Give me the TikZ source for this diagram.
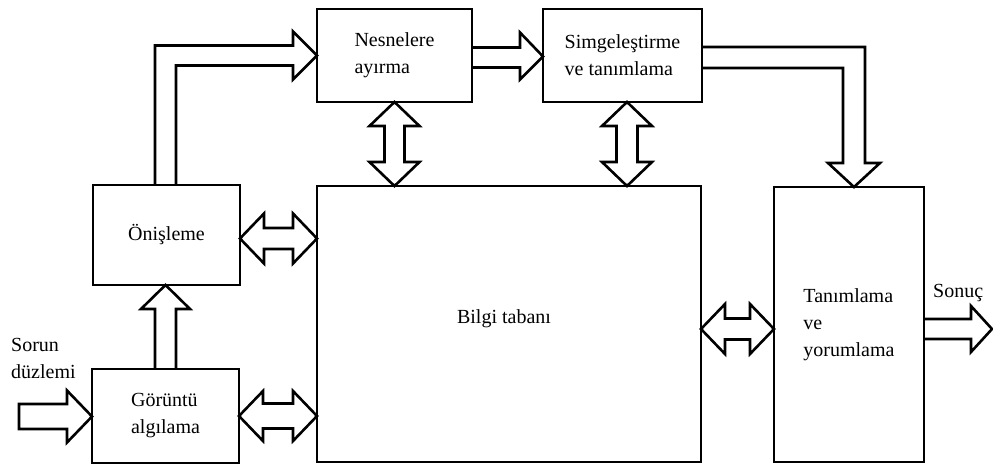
\documentclass[tikz,border=0pt]{standalone}
\usepackage{fontspec}
\setmainfont{Liberation Serif}
\usetikzlibrary{calc}

% horizontal two-headed block arrow between two points on the same level
\newcommand\hdbl[3]{%
  \draw[blk] let \p1=(#1), \p2=(#2) in
    (\x1,\y1) -- (\x1+24pt,\y1+25pt) -- (\x1+24pt,\y1+#3) -- (\x2-24pt,\y1+#3)
    -- (\x2-24pt,\y1+25pt) -- (\x2,\y1) -- (\x2-24pt,\y1-25pt) -- (\x2-24pt,\y1-#3)
    -- (\x1+24pt,\y1-#3) -- (\x1+24pt,\y1-25pt) -- cycle;}
% vertical two-headed block arrow, upper point first
\newcommand\vdbl[3]{%
  \draw[blk] let \p1=(#1), \p2=(#2) in
    (\x1,\y1) -- (\x1+25pt,\y1-24pt) -- (\x1+#3,\y1-24pt) -- (\x1+#3,\y2+24pt)
    -- (\x1+25pt,\y2+24pt) -- (\x1,\y2) -- (\x1-25pt,\y2+24pt) -- (\x1-#3,\y2+24pt)
    -- (\x1-#3,\y1-24pt) -- (\x1-25pt,\y1-24pt) -- cycle;}

\begin{document}
\begin{tikzpicture}[x=1pt,y=-1pt,
  font=\fontsize{20}{27}\selectfont,
  box/.style={draw, line width=2.6pt, outer sep=0pt, inner sep=0pt, align=left},
  blk/.style={draw, line width=2.6pt, line join=miter},
  lbl/.style={inner sep=0pt, align=left}]
\useasboundingbox (0,0) rectangle (993,466);

% processing blocks
\node[box, minimum width=147, minimum height=94] (gor) at (165.5,416) {Görüntü\\algılama};
\node[box, minimum width=147, minimum height=100] (oni) at (166.5,235) {Önişleme};
\node[box, minimum width=384, minimum height=276] (bil) at (509,324) {};
\node[box, minimum width=155, minimum height=93] (nes) at (394.5,55.5) {Nesnelere\\ayırma};
\node[box, minimum width=159, minimum height=93] (sim) at (622.5,55.5) {Simgeleştirme\\ve tanımlama};
\node[box, minimum width=150, minimum height=275] (tan) at (849,324.5) {Tanımlama\\ve\\yorumlama};
\node[lbl] (biltxt) at ([xshift=-5pt,yshift=5pt]bil.center) {Bilgi tabanı};

% free ends of the input and output arrows
\coordinate (in) at (19,416.5);
\coordinate (out) at (992,329);
\node[lbl, anchor=north west] (sorun) at (11,338) {Sorun\\düzlemi};
\node[lbl, anchor=base west] (sonuc) at (933,297) {Sonuç};

% attachment points of the links that sit off the box centres
\coordinate (oniR) at ([yshift=-3.5pt]oni.east);
\coordinate (bilR) at ([yshift=-5pt]bil.east);
\coordinate (simB) at ([xshift=4.5pt]sim.south);

% input arrow
\draw[blk] let \p1=(in), \p2=(gor.west) in
  (\x1,\y1+12.5pt) -- (\x2-25pt,\y1+12.5pt) -- (\x2-25pt,\y1+26pt) -- (\x2,\y1)
  -- (\x2-25pt,\y1-26pt) -- (\x2-25pt,\y1-12.5pt) -- (\x1,\y1-12.5pt) -- cycle;

% two-headed links to the knowledge base
\hdbl{gor.east}{bil.west |- gor.east}{12.5pt}
\hdbl{oniR}{bil.west |- oniR}{10.5pt}
\hdbl{bilR}{tan.west |- bilR}{10.5pt}
\vdbl{nes.south}{nes.south |- bil.north}{10pt}
\vdbl{simB}{simB |- bil.north}{10.5pt}

% Görüntü algılama -> Önişleme
\draw[blk] let \p1=(gor.north), \p2=(oni.south) in
  (\x1-10.5pt,\y1) -- (\x1-10.5pt,\y2-24pt) -- (\x1-24.5pt,\y2-24pt) -- (\x1,\y2)
  -- (\x1+24.5pt,\y2-24pt) -- (\x1+10.5pt,\y2-24pt) -- (\x1+10.5pt,\y1);

% Önişleme -> Nesnelere ayırma
\draw[blk] let \p1=(oni.north), \p2=(nes.west) in
  (\x1-11.5pt,\y1) -- (\x1-11.5pt,\y2+10pt) -- (\x2-24pt,\y2+10pt) -- (\x2-24pt,\y2+24pt)
  -- (\x2,\y2) -- (\x2-24pt,\y2-24pt) -- (\x2-24pt,\y2-10pt) -- (\x1+9.5pt,\y2-10pt)
  -- (\x1+9.5pt,\y1);

% Nesnelere ayırma -> Simgeleştirme
\draw[blk] let \p1=(nes.east), \p2=(sim.west) in
  (\x1,\y1+8pt) -- (\x2-23pt,\y1+8pt) -- (\x2-23pt,\y1+23pt) -- (\x2,\y1-1pt)
  -- (\x2-23pt,\y1-24pt) -- (\x2-23pt,\y1-12pt) -- (\x1,\y1-12pt);

% Simgeleştirme -> Tanımlama
\draw[blk] let \p1=(sim.east), \p2=([xshift=5pt]tan.north) in
  (\x1,\y1+8.5pt) -- (\x2+11pt,\y1+8.5pt) -- (\x2+11pt,\y2+24pt) -- (\x2+26pt,\y2+24pt)
  -- (\x2,\y2) -- (\x2-26pt,\y2+24pt) -- (\x2-11pt,\y2+24pt) -- (\x2-11pt,\y1-12.5pt)
  -- (\x1,\y1-12.5pt);

% output arrow
\draw[blk] let \p1=(tan.east), \p2=(out) in
  (\x1,\y2+10pt) -- (\x2-21pt,\y2+10pt) -- (\x2-21pt,\y2+23pt) -- (\x2,\y2)
  -- (\x2-21pt,\y2-23pt) -- (\x2-21pt,\y2-10pt) -- (\x1,\y2-10pt);
\end{tikzpicture}
\end{document}
